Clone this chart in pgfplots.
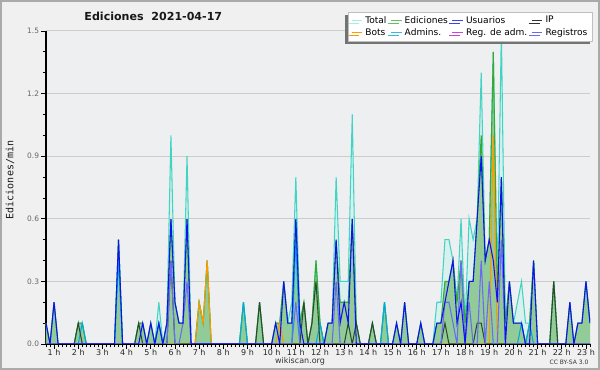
\documentclass[border=0pt]{standalone}
\usepackage{fontspec}
\setmainfont{DejaVu Sans}
\newfontfamily\monofont{DejaVu Sans Mono}
\usepackage{pgfplots}
\usepackage{pgfplotstable}
\pgfplotsset{compat=1.18}
\usetikzlibrary{shadows}

\definecolor{outerbg}{HTML}{F0F0F0}
\definecolor{plotbg}{HTML}{EEEFF1}
\definecolor{framec}{HTML}{AAAAAA}
\definecolor{gridc}{HTML}{CCCCCC}
\definecolor{totc}{HTML}{40D4C4}
\definecolor{totfill}{HTML}{D6F2EE}
\definecolor{edc}{HTML}{33AA33}
\definecolor{edfill}{HTML}{74BB74}
\definecolor{usc}{HTML}{1010F0}
\definecolor{ipc}{HTML}{2E4A2E}
\definecolor{boc}{HTML}{FF9900}
\definecolor{adc}{HTML}{00AADD}
\definecolor{rac}{HTML}{CC44DD}
\definecolor{rec}{HTML}{6A6AF5}

\pgfplotstableread{
i tot ed us ip bo ad re
0 0.1 0.1 0.1 0 0 0 0
1 0 0 0 0 0 0 0
2 0.2 0.2 0.2 0 0 0 0
3 0 0 0 0 0 0 0
4 0 0 0 0 0 0 0
5 0 0 0 0 0 0 0
6 0 0 0 0 0 0 0
7 0 0 0 0 0 0 0
8 0.1 0.1 0 0.1 0 0 0
9 0.1 0.1 0 0 0 0.1 0
10 0 0 0 0 0 0 0
11 0 0 0 0 0 0 0
12 0 0 0 0 0 0 0
13 0 0 0 0 0 0 0
14 0 0 0 0 0 0 0
15 0 0 0 0 0 0 0
16 0 0 0 0 0 0 0
17 0 0 0 0 0 0 0
18 0.5 0.5 0.5 0 0 0.4 0
19 0 0 0 0 0 0 0
20 0 0 0 0 0 0 0
21 0 0 0 0 0 0 0
22 0 0 0 0 0 0 0
23 0.1 0.1 0 0.1 0 0 0
24 0.1 0.1 0.1 0 0 0 0
25 0 0 0 0 0 0 0
26 0.1 0.1 0.1 0 0 0 0
27 0 0 0 0 0 0 0
28 0.2 0.1 0.1 0 0 0.1 0
29 0 0 0 0 0 0 0
30 0.1 0.1 0.1 0 0 0 0
31 1.0 0.6 0.6 0.4 0 0 0.4
32 0.2 0.2 0.2 0 0 0 0
33 0.1 0.1 0.1 0 0 0 0
34 0.1 0.1 0.1 0 0 0 0.1
35 0.9 0.6 0.6 0 0 0 0.3
36 0 0 0 0 0 0 0
37 0 0 0 0 0 0 0
38 0.2 0.2 0 0 0.2 0 0
39 0.1 0.1 0 0 0.1 0 0
40 0.4 0.4 0 0 0.4 0 0
41 0 0 0 0 0 0 0
42 0 0 0 0 0 0 0
43 0 0 0 0 0 0 0
44 0 0 0 0 0 0 0
45 0 0 0 0 0 0 0
46 0 0 0 0 0 0 0
47 0 0 0 0 0 0 0
48 0 0 0 0 0 0 0
49 0.2 0.2 0 0 0 0.2 0
50 0 0 0 0 0 0 0
51 0 0 0 0 0 0 0
52 0 0 0 0 0 0 0
53 0.2 0.2 0 0.2 0 0 0
54 0 0 0 0 0 0 0
55 0 0 0 0 0 0 0
56 0 0 0 0 0 0 0
57 0.1 0.1 0.1 0 0 0 0
58 0.1 0.1 0 0 0.1 0 0
59 0.3 0.3 0.3 0 0 0 0
60 0.1 0.1 0.1 0 0 0 0
61 0.2 0.1 0.1 0 0 0 0
62 0.8 0.6 0.6 0 0 0.5 0.2
63 0.1 0.1 0.1 0 0 0 0
64 0.2 0.2 0 0.2 0 0 0
65 0 0 0 0 0 0 0
66 0.1 0.1 0 0.1 0 0 0
67 0.4 0.4 0 0.3 0 0 0
68 0.1 0.1 0 0 0 0.1 0
69 0 0 0 0 0 0 0
70 0.1 0.1 0.1 0 0 0 0
71 0.1 0.1 0.1 0 0 0 0
72 0.8 0.5 0.5 0 0 0 0.3
73 0.3 0.2 0.1 0 0 0 0
74 0.3 0.2 0.2 0 0 0 0
75 0.3 0.2 0.1 0.1 0 0 0
76 1.1 0.6 0.6 0 0 0 0
77 0.1 0.1 0 0.1 0 0 0
78 0 0 0 0 0 0 0
79 0 0 0 0 0 0 0
80 0 0 0 0 0 0 0
81 0.1 0.1 0 0.1 0 0 0
82 0 0 0 0 0 0 0
83 0 0 0 0 0 0 0
84 0.2 0.2 0 0 0 0.2 0
85 0 0 0 0 0 0 0
86 0 0 0 0 0 0 0
87 0.1 0.1 0.1 0 0 0 0
88 0 0 0 0 0 0 0
89 0.2 0.2 0.2 0 0 0 0
90 0 0 0 0 0 0 0
91 0 0 0 0 0 0 0
92 0 0 0 0 0 0 0
93 0.1 0.1 0.1 0 0 0 0
94 0 0 0 0 0 0 0
95 0 0 0 0 0 0 0
96 0 0 0 0 0 0 0
97 0.2 0.1 0.1 0 0 0 0
98 0.2 0.1 0.1 0 0 0 0
99 0.5 0.3 0.2 0.1 0 0 0.2
100 0.5 0.3 0.3 0 0 0 0.2
101 0.4 0.4 0.4 0 0 0 0.1
102 0.2 0.2 0.1 0 0 0 0
103 0.6 0.4 0.2 0 0 0 0.4
104 0.1 0.1 0 0 0 0 0
105 0.6 0.3 0.3 0 0 0 0.2
106 0.5 0.3 0.3 0 0 0 0
107 0.6 0.6 0.6 0.1 0 0 0
108 1.3 1.0 0.9 0.1 0 0 0.4
109 0.4 0.4 0.4 0 0 0 0
110 0.5 0.5 0.5 0 0 0 0.3
111 1.4 1.4 0.4 0 1.0 0 0
112 0.3 0.2 0.2 0 0 0 0
113 1.5 0.8 0.8 0 0 0 0.5
114 0.1 0.1 0 0 0 0 0
115 0.3 0.3 0.3 0 0 0 0
116 0.1 0.1 0.1 0 0 0 0
117 0.2 0.1 0.1 0 0 0 0
118 0.3 0.1 0.1 0 0 0.1 0
119 0.1 0 0 0 0 0 0
120 0.1 0.1 0 0 0 0.1 0
121 0.4 0.4 0.4 0 0 0 0
122 0 0 0 0 0 0 0
123 0 0 0 0 0 0 0
124 0 0 0 0 0 0 0
125 0 0 0 0 0 0 0
126 0.3 0.3 0 0.3 0 0 0
127 0 0 0 0 0 0 0
128 0 0 0 0 0 0 0
129 0 0 0 0 0 0 0
130 0.2 0.2 0.2 0 0 0 0
131 0 0 0 0 0 0 0
132 0.1 0.1 0.1 0 0 0 0
133 0.1 0.1 0.1 0 0 0 0
134 0.3 0.3 0.3 0 0 0 0
135 0.1 0.1 0.1 0 0 0 0
}\data

\begin{document}
\begin{tikzpicture}
\fill[outerbg] (0,0) rectangle (450pt,277.5pt);
\draw[framec, line width=1.5pt] (0.75pt,0.75pt) rectangle (449.25pt,276.75pt);
\begin{axis}[
  at={(34.5pt,19.5pt)}, anchor=south west,
  scale only axis, width=408pt, height=234.75pt,
  xmin=0, xmax=135, ymin=0, ymax=1.5,
  axis lines*=left,
  axis line style={black, line width=0.8pt},
  axis background/.style={fill=plotbg},
  xtick={2,8,14,20,26,32,38,44,50,56,62,68,74,80,86,92,98,104,110,116,122,128,134},
  xticklabels={1 h,2 h,3 h,4 h,5 h,6 h,7 h,8 h,9 h,10 h,11 h,12 h,13 h,14 h,15 h,16 h,17 h,18 h,19 h,20 h,21 h,22 h,23 h},
  minor xtick={0,...,135},
  ytick={0,0.3,0.6,0.9,1.2,1.5},
  minor ytick={0.1,0.2,0.4,0.5,0.7,0.8,1.0,1.1,1.3,1.4},
  tick align=outside,
  major tick length=3.5pt, minor tick length=2.5pt,
  tick style={black, line width=0.6pt},
  ymajorgrids, major grid style={gridc, line width=0.75pt},
  yticklabel style={font=\fontsize{5.6}{6}\selectfont, text=black!60, inner sep=1.5pt},
  xticklabel style={font=\fontsize{6}{6.5}\selectfont, text=black!85, inner sep=1pt, yshift=0.5pt},
  yticklabel={\pgfmathprintnumber[fixed,fixed zerofill,precision=1]{\tick}},
  /pgf/number format/assume math mode=true,
  legend columns=4,
  legend cell align=left,
  legend style={at={(1.0055,1.061)}, anchor=north east, draw=black!25, fill=white,
    drop shadow={shadow xshift=-2.2pt, shadow yshift=-2.2pt, fill=black!55, opacity=1},
    font=\fontsize{6.8}{7}\selectfont, inner xsep=2pt, inner ysep=1pt, row sep=-1.5pt,
    /tikz/every even column/.append style={column sep=1pt}},
  legend image code/.code={\draw[#1, line width=0.7pt] (0pt,0pt) -- (8pt,0pt);},
]
% fills
\addplot[draw=none, fill=totfill, fill opacity=0.85, forget plot] table[x=i,y=tot]{\data} \closedcycle;
\addplot[draw=none, fill=edfill, fill opacity=0.7, forget plot] table[x=i,y=ed]{\data} \closedcycle;
% lines
\addplot[totc, line width=0.8pt, forget plot] table[x=i,y=tot]{\data};
\addplot[edc, line width=0.8pt, forget plot] table[x=i,y=ed]{\data};
\addplot[adc, line width=0.8pt, forget plot] table[x=i,y=ad]{\data};
\addplot[boc, line width=0.8pt, forget plot] table[x=i,y=bo]{\data};
\addplot[ipc, line width=0.8pt, forget plot] table[x=i,y=ip]{\data};
\addplot[rec, line width=0.8pt, forget plot] table[x=i,y=re]{\data};
\addplot[usc, line width=0.8pt, forget plot] table[x=i,y=us]{\data};
% legend
\addlegendimage{totc!45}\addlegendentry{Total}
\addlegendimage{edc!75}\addlegendentry{Ediciones}
\addlegendimage{usc!80}\addlegendentry{Usuarios}
\addlegendimage{black!80}\addlegendentry{IP}
\addlegendimage{boc}\addlegendentry{Bots}
\addlegendimage{adc!80}\addlegendentry{Admins.}
\addlegendimage{rac}\addlegendentry{Reg. de adm.}
\addlegendimage{rec}\addlegendentry{Registros}
\end{axis}
\node[font=\bfseries\fontsize{8.3}{9}\selectfont, text=black!90] at (115pt,265.5pt) {Ediciones\ \ 2021-04-17};
\node[font=\monofont\fontsize{7.5}{8}\selectfont, rotate=90, text=black!90] at (7.5pt,142.5pt) {Ediciones/min};
\node[font=\fontsize{6}{6.5}\selectfont, text=black!80] at (225pt,6.75pt) {wikiscan.org};
\node[font=\fontsize{4.5}{5}\selectfont, text=black!80] at (426.75pt,5.6pt) {CC BY-SA 3.0};
\pgfresetboundingbox
\useasboundingbox (0,0) rectangle (450pt,277.5pt);
\end{tikzpicture}
\end{document}
